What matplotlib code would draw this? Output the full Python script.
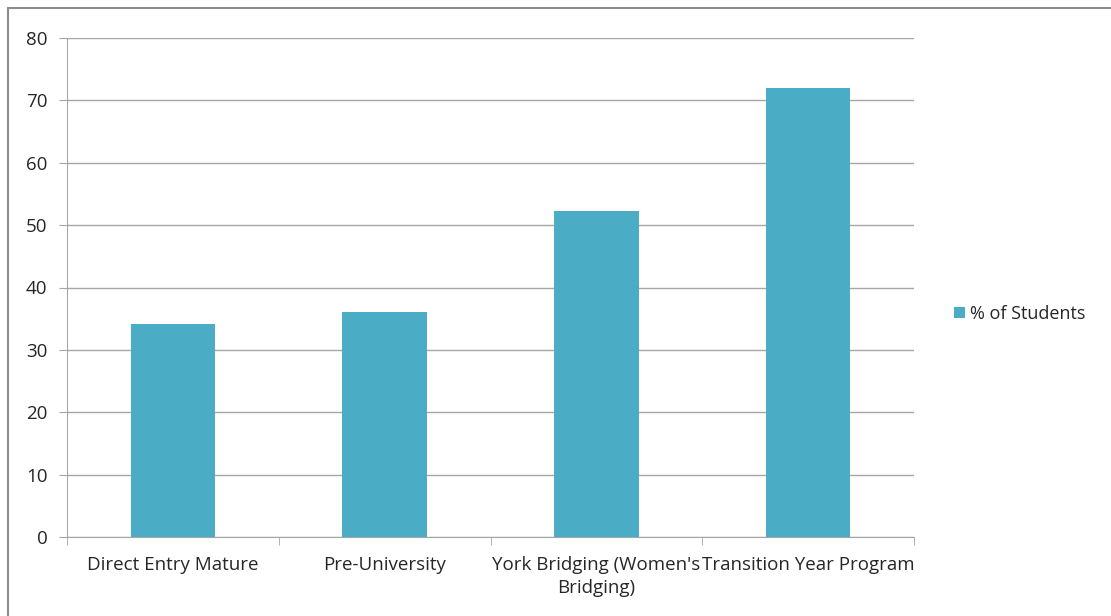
import matplotlib
matplotlib.use("Agg")
import matplotlib.pyplot as plt
from matplotlib.patches import Rectangle
import numpy as np

categories = ["Direct Entry Mature", "Pre-University", "York Bridging (Women's\nBridging)", "Transition Year Program"]
values = [34.2, 36.1, 52.3, 72.0]
series_name = "% of Students"
yticks = [0, 10, 20, 30, 40, 50, 60, 70, 80]

plt.rcParams['font.family'] = ['Open Sans', 'DejaVu Sans']
fig = plt.figure(figsize=(11.11, 6.16), dpi=100)
W, H = 1111, 616
ax = fig.add_axes([67 / W, 1 - 537 / H, (914 - 67) / W, (537 - 38) / H])

x = np.arange(len(categories))
ax.bar(x, values, width=0.4, color="#4BACC6", label=series_name, zorder=3)
ax.set_xlim(-0.5, len(categories) - 0.5)
ax.set_ylim(0, 80)
ax.set_yticks(yticks)
ax.set_yticklabels([str(v) for v in yticks], fontsize=13.5, color="#262626")
ax.yaxis.grid(True, color="#a6a6a6", linewidth=1.0, zorder=0)
ax.set_xticks(x)
ax.set_xticklabels(categories, fontsize=13.5, color="#262626", linespacing=1.3)
ax.set_xticks(np.arange(-0.5, len(categories), 1.0), minor=True)
ax.tick_params(axis='x', which='major', length=0, pad=14)
ax.tick_params(axis='x', which='minor', length=6, color="#a6a6a6", direction='out')
ax.tick_params(axis='y', length=6, color="#a6a6a6", direction='out', pad=8)
for s in ["top", "right"]:
    ax.spines[s].set_visible(False)
for s in ["left", "bottom"]:
    ax.spines[s].set_color("#a6a6a6")

leg = fig.legend(loc="center left", bbox_to_anchor=(938 / W, 1 - 314 / H), frameon=False,
                 fontsize=13, handlelength=0.6, handleheight=0.6, handletextpad=0.3)
for t in leg.get_texts():
    t.set_color("#262626")

fig.patches.append(Rectangle((8 / W, -0.1), 1.2, 1 - 8 / H + 0.1, transform=fig.transFigure,
                             fill=False, edgecolor="#8c8c8c", linewidth=1.5))
fig.savefig("out.png", dpi=100)
